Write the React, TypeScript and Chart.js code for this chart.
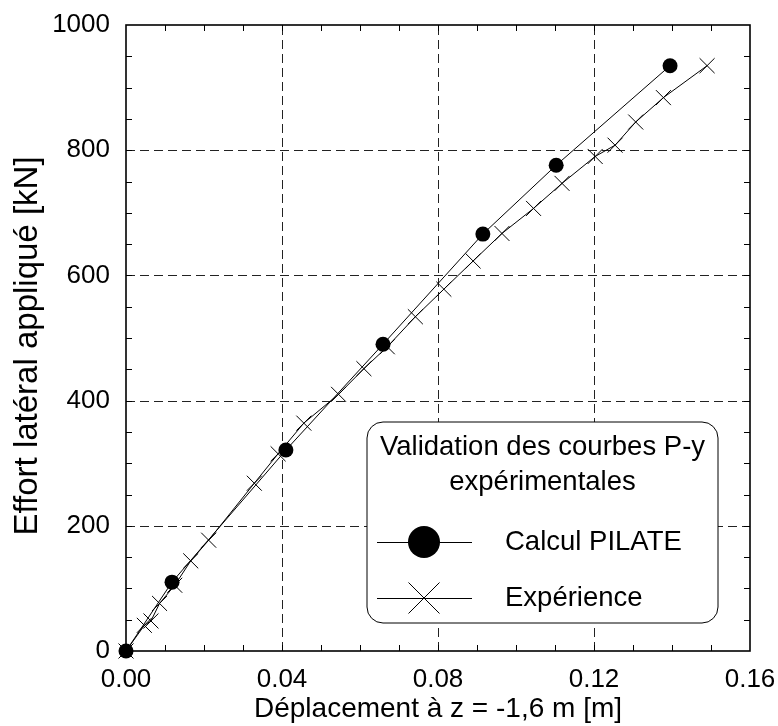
import React, { useEffect, useRef } from "react";
import { Chart, registerables } from "chart.js";

Chart.register(...registerables);

const FONT = "'Liberation Sans', Arial, Helvetica, sans-serif";

// PILATE computation (x in m, y in kN)
const pilateX = [0, 0.0118, 0.041, 0.0659, 0.0915, 0.1103, 0.1395];
const pilateY = [0, 110, 321, 490, 666, 776, 935];

// Experimental
const expX = [0, 0.0047, 0.0064, 0.0086, 0.0125, 0.0166, 0.0212, 0.0329, 0.039, 0.0456, 0.0545, 0.061, 0.067, 0.0742, 0.0815, 0.089, 0.0964, 0.1045, 0.1118, 0.1203, 0.1254, 0.1307, 0.1378, 0.149];
const expY = [0, 41, 48, 76, 105, 144, 177, 268, 315, 364, 410, 451, 486, 534, 578, 623, 667, 707, 747, 790, 808, 845, 884, 935];

const xMajor = [0, 0.04, 0.08, 0.12, 0.16];
const yMajor = [0, 200, 400, 600, 800, 1000];
const xMinorStep = 0.01;
const yMinorStep = 50;

const seriesNames = ["Calcul PILATE", "Expérience"];
const legendTitle = ["Validation des courbes P-y", "expérimentales"];
const xTitle = "Déplacement à z = -1,6 m [m]";
const yTitle = "Effort latéral appliqué [kN]";

const framePlugin = {
  id: "frame",
  beforeDatasetsDraw(chart: any) {
    const { ctx, chartArea: ca, scales } = chart;
    ctx.save();
    ctx.strokeStyle = "#222";
    ctx.lineWidth = 1;
    ctx.setLineDash([9, 5]);
    for (const v of xMajor.slice(1, -1)) {
      const px = Math.round(scales.x.getPixelForValue(v)) + 0.5;
      ctx.beginPath();
      ctx.moveTo(px, ca.bottom);
      ctx.lineTo(px, ca.top);
      ctx.stroke();
    }
    for (const v of yMajor.slice(1, -1)) {
      const py = Math.round(scales.y.getPixelForValue(v)) + 0.5;
      ctx.beginPath();
      ctx.moveTo(ca.left, py);
      ctx.lineTo(ca.right, py);
      ctx.stroke();
    }
    ctx.restore();
  },
  afterDatasetsDraw(chart: any) {
    const { ctx, chartArea: ca, scales } = chart;
    ctx.save();
    ctx.strokeStyle = "#000";
    ctx.lineWidth = 1;
    ctx.setLineDash([]);
    const tl = 6;
    const nx = Math.round((xMajor[xMajor.length - 1] - xMajor[0]) / xMinorStep);
    for (let i = 1; i < nx; i++) {
      const px = Math.round(scales.x.getPixelForValue(xMajor[0] + i * xMinorStep)) + 0.5;
      ctx.beginPath();
      ctx.moveTo(px, ca.bottom);
      ctx.lineTo(px, ca.bottom - tl);
      ctx.moveTo(px, ca.top);
      ctx.lineTo(px, ca.top + tl);
      ctx.stroke();
    }
    const ny = Math.round((yMajor[yMajor.length - 1] - yMajor[0]) / yMinorStep);
    for (let i = 1; i < ny; i++) {
      const py = Math.round(scales.y.getPixelForValue(yMajor[0] + i * yMinorStep)) + 0.5;
      ctx.beginPath();
      ctx.moveTo(ca.left, py);
      ctx.lineTo(ca.left + tl, py);
      ctx.moveTo(ca.right, py);
      ctx.lineTo(ca.right - tl, py);
      ctx.stroke();
    }
    ctx.lineWidth = 1.6;
    ctx.strokeRect(ca.left, ca.top, ca.right - ca.left, ca.bottom - ca.top);
    ctx.restore();
  },
  afterDraw(chart: any) {
    const { ctx, chartArea: ca } = chart;

    // y axis title
    ctx.save();
    ctx.fillStyle = "#000";
    ctx.font = `33px ${FONT}`;
    ctx.textAlign = "center";
    ctx.textBaseline = "alphabetic";
    ctx.translate(37, (ca.top + ca.bottom) / 2 + 8);
    ctx.rotate(-Math.PI / 2);
    ctx.fillText(yTitle, 0, 0);
    ctx.restore();

    // legend
    const bx = ca.left + 241;
    const by = ca.top + 397;
    const bw = 351;
    const bh = 201;
    const r = 16;
    ctx.save();
    ctx.beginPath();
    ctx.moveTo(bx + r, by);
    ctx.lineTo(bx + bw - r, by);
    ctx.arcTo(bx + bw, by, bx + bw, by + r, r);
    ctx.lineTo(bx + bw, by + bh - r);
    ctx.arcTo(bx + bw, by + bh, bx + bw - r, by + bh, r);
    ctx.lineTo(bx + r, by + bh);
    ctx.arcTo(bx, by + bh, bx, by + bh - r, r);
    ctx.lineTo(bx, by + r);
    ctx.arcTo(bx, by, bx + r, by, r);
    ctx.closePath();
    ctx.fillStyle = "#fff";
    ctx.fill();
    ctx.strokeStyle = "#000";
    ctx.lineWidth = 1;
    ctx.stroke();

    ctx.fillStyle = "#000";
    ctx.font = `27.5px ${FONT}`;
    ctx.textAlign = "center";
    ctx.textBaseline = "middle";
    const cx = bx + bw / 2;
    ctx.fillText(legendTitle[0], cx, by + 25);
    ctx.fillText(legendTitle[1], cx, by + 60);

    const rows = [by + 120, by + 176];
    const lx1 = bx + 10;
    const lx2 = bx + 105;
    const mx = bx + 57;
    rows.forEach((ry, i) => {
      ctx.beginPath();
      ctx.lineWidth = 1;
      ctx.moveTo(lx1, ry + 0.5);
      ctx.lineTo(lx2, ry + 0.5);
      ctx.stroke();
      if (i === 0) {
        ctx.beginPath();
        ctx.arc(mx, ry, 16, 0, Math.PI * 2);
        ctx.fill();
      } else {
        const h = 15.5;
        ctx.beginPath();
        ctx.moveTo(mx - h, ry - h);
        ctx.lineTo(mx + h, ry + h);
        ctx.moveTo(mx - h, ry + h);
        ctx.lineTo(mx + h, ry - h);
        ctx.stroke();
      }
      ctx.textAlign = "left";
      ctx.fillText(seriesNames[i], bx + 138, ry);
    });
    ctx.restore();
  },
};

const noPad = (s: any) => {
  s.paddingTop = 0;
  s.paddingBottom = 0;
  s.paddingLeft = 0;
  s.paddingRight = 0;
};

export default function App() {
  const ref = useRef<HTMLCanvasElement>(null);
  useEffect(() => {
    if (!ref.current) return;
    const chart = new Chart(ref.current, {
      type: "scatter",
      data: {
        datasets: [
          {
            label: seriesNames[0],
            data: pilateX.map((x, i) => ({ x, y: pilateY[i] })),
            showLine: true,
            borderColor: "#000",
            backgroundColor: "#000",
            borderWidth: 1,
            pointStyle: "circle",
            pointRadius: 7.5,
            pointBorderWidth: 0,
            tension: 0,
            clip: false as any,
          },
          {
            label: seriesNames[1],
            data: expX.map((x, i) => ({ x, y: expY[i] })),
            showLine: true,
            borderColor: "#000",
            backgroundColor: "#000",
            borderWidth: 1,
            pointStyle: "crossRot",
            pointRadius: 10.6,
            pointBorderWidth: 1,
            tension: 0,
            clip: false as any,
          },
        ],
      },
      options: {
        animation: false,
        responsive: true,
        maintainAspectRatio: false,
        layout: { padding: { left: 0, right: 28, top: 25, bottom: 0 } },
        plugins: { legend: { display: false }, tooltip: { enabled: false } },
        scales: {
          x: {
            type: "linear",
            min: xMajor[0],
            max: xMajor[xMajor.length - 1],
            afterBuildTicks: (s: any) => {
              s.ticks = xMajor.map((v) => ({ value: v }));
            },
            ticks: {
              callback: (v: any) => Number(v).toFixed(2),
              font: { family: FONT, size: 26 },
              color: "#000",
              padding: 13,
              maxRotation: 0,
              autoSkip: false,
            },
            grid: { display: false, drawTicks: false },
            border: { display: false },
            title: {
              display: true,
              text: xTitle,
              font: { family: FONT, size: 28 },
              color: "#000",
              padding: 0,
            },
            afterFit: (s: any) => {
              s.height = 75;
              noPad(s);
            },
          },
          y: {
            type: "linear",
            min: yMajor[0],
            max: yMajor[yMajor.length - 1],
            afterBuildTicks: (s: any) => {
              s.ticks = yMajor.map((v) => ({ value: v }));
            },
            ticks: {
              callback: (v: any) => String(v),
              font: { family: FONT, size: 26 },
              color: "#000",
              padding: 16,
              autoSkip: false,
            },
            grid: { display: false, drawTicks: false },
            border: { display: false },
            title: { display: false },
            afterFit: (s: any) => {
              s.width = 126;
              noPad(s);
            },
          },
        },
      },
      plugins: [framePlugin],
    });
    return () => chart.destroy();
  }, []);
  return (
    <div style={{ position: "fixed", left: 0, top: 0, width: 778, height: 726, background: "#fff" }}>
      <canvas ref={ref} />
    </div>
  );
}
